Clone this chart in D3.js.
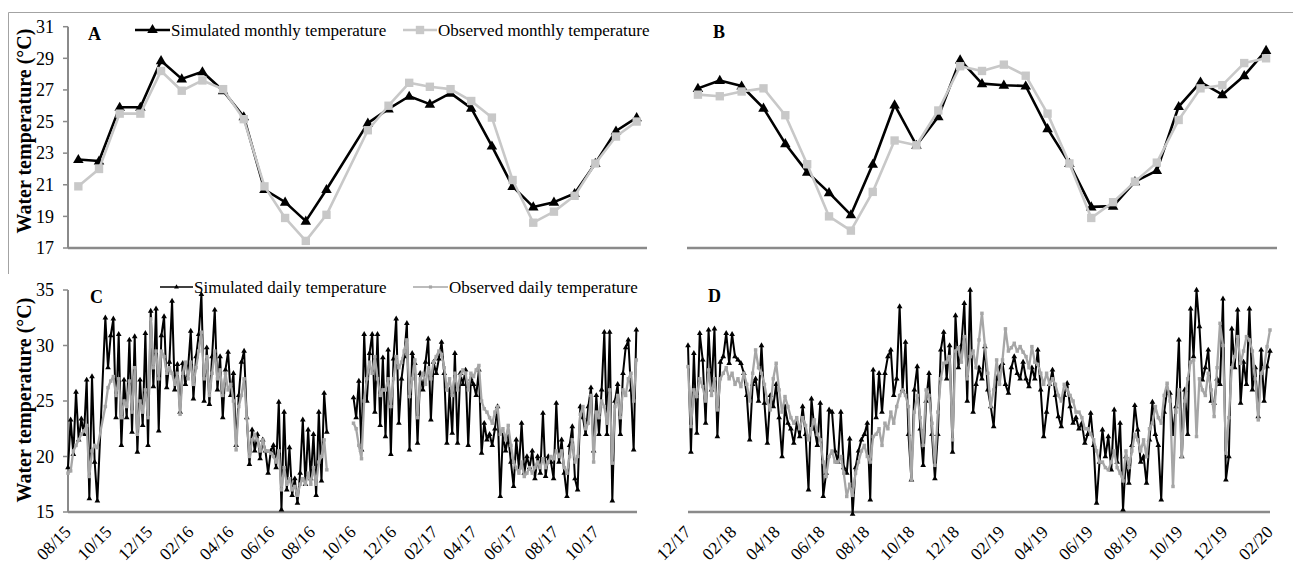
<!DOCTYPE html>
<html><head><meta charset="utf-8">
<script src="https://cdn.jsdelivr.net/npm/d3@7"></script>
<style>
body{margin:0;background:#fff}
svg{display:block}
text{font-family:"Liberation Serif","Times New Roman",serif;fill:#000}
</style>
</head><body>
<svg id="chart" width="1293" height="568"></svg>
<script>
// ---------------- DATA ----------------
const monthsA = ["08/15","09/15","10/15","11/15","12/15","01/16","02/16","03/16","04/16","05/16","06/16","07/16","08/16","09/16","10/16","11/16","12/16","01/17","02/17","03/17","04/17","05/17","06/17","07/17","08/17","09/17","10/17","11/17"];
const simMonthlyA = [22.6,22.5,25.9,25.9,28.85,27.7,28.15,26.95,25.3,20.7,19.9,18.7,20.7,null,24.9,25.8,26.6,26.1,26.8,25.85,23.45,20.9,19.6,19.9,20.45,22.35,24.4,25.25];
const obsMonthlyA = [20.9,22.0,25.5,25.5,28.2,26.95,27.6,27.05,25.15,20.9,18.9,17.45,19.1,null,24.45,26.0,27.45,27.2,27.05,26.3,25.25,21.3,18.6,19.3,20.3,22.35,24.05,25.0];

const monthsB = ["12/17","01/18","02/18","03/18","04/18","05/18","06/18","07/18","08/18","09/18","10/18","11/18","12/18","01/19","02/19","03/19","04/19","05/19","06/19","07/19","08/19","09/19","10/19","11/19","12/19","01/20","02/20"];
const simMonthlyB = [27.1,27.6,27.25,25.85,23.6,21.8,20.5,19.1,22.3,26.05,23.5,25.3,28.9,27.4,27.3,27.25,24.55,22.35,19.6,19.65,21.2,21.9,25.95,27.5,26.7,27.9,29.5];
const obsMonthlyB = [26.7,26.6,26.9,27.1,25.4,22.3,19.0,18.1,20.55,23.8,23.5,25.7,28.5,28.2,28.6,27.9,25.5,22.35,18.9,19.9,21.2,22.4,25.1,27.1,27.3,28.7,29.0];

// daily series, one value every 4 days from the start date (null = no data)
const dailyStepDays = 4;
const startC = "2015-08-01", endC = "2017-12-01";
const startD = "2017-12-01", endD = "2020-02-01";

const simDailyC = [19,23.3,20.2,25.8,21.5,23.4,22,26.9,16.2,27.2,19.5,16,null,null,
32.5,28,30.9,32.4,23.5,31,21,26.9,23.5,30.5,22.2,30.8,20.4,26.9,22.8,31.1,
21,33.1,26.3,33.3,22.3,30.9,32.6,26.2,28.5,34,26,28.3,24,28.4,26.5,28,31.3,25.2,29,31,
34.6,25,29.8,24.7,29,33.2,26,29,23.5,27.8,29.4,25.5,27.5,21,25.5,28.5,29.5,23.5,19.3,22.4,
20.5,22,19.8,21.5,20.5,18.5,20.5,21,19,24.9,15.2,24,17,20.8,16.5,18,15.8,18.5,23.3,17.5,
22.4,18,22,16.5,24,17.8,25.7,22.2,
null,null,null,null,null,null,null,null,null,
25.3,23.5,26.8,20.6,31,25,29.3,31,24,31,22.8,28.9,21.8,29.6,20.2,28.8,32.4,23,
27,29,32,20.6,29.3,28.4,21.2,27.5,26,28.5,30.6,23.3,28.5,27.5,28.8,30.3,27.5,21.2,26,22.1,
29.3,21.2,27.5,26.5,27.8,21,27,26.5,25.5,27.8,20.3,23,21.5,22,21,22.5,24.5,16.4,22,20.5,
21.8,19.5,17.3,21.5,19,23,18.5,20,19,20.5,18,20,18.5,23.9,18.2,20,19.5,18,24.8,19.5,
21.5,18.5,16.4,21,22.7,18,17,24.5,23.5,22,24.5,26.2,20.5,25.5,22,26,31.2,22,31.2,16,
25,26.5,22,27.5,29.8,30.5,26,20.6,31.4];

const obsDailyC = [18.5,18.7,20.5,21,21.5,22,22.3,22.8,18.2,20.5,21,20.8,null,null,
24.5,26.2,26.8,27.2,25.5,27,23.5,25,24.5,26.8,24,28,22,25,24,26,
23.5,32.4,28,29.5,27,29.5,29,27.5,28,27.5,26.5,27.5,23.8,27.5,28.5,27,28.5,26.5,28,29.5,
31.2,27,29,25.5,27.5,29.5,27,27.8,25.5,27.5,26,26.5,25,20.6,24.5,25.5,27,23.5,20,21.5,
22,21.5,20.5,21.5,20.5,20.5,20.3,20,19.5,20.5,17,19,17.5,18,17,17.3,16.5,17.5,18,17.5,
18.5,17.5,19,17.5,19.5,20,21.5,18.8,
null,null,null,null,null,null,null,null,null,
23,22.5,21,19.8,25,27,28.5,27.5,29,27,25.5,26,26,27,24.5,27,29,28,
28.5,29.5,30.5,25.4,27,28.7,23.5,27,27.5,26.5,28,27,28.5,29,29.5,29.2,28,26,27,25.5,
27.5,26,27.3,27.8,27.5,26,27.5,27.2,27.8,28.2,25,24.3,24,23.5,23,24,24.5,22,22.5,21.5,
22.8,21,19.5,19,18.5,19.5,18.2,18.5,19,18.5,19,19.5,19,19.8,19,19.5,20,19.8,20.5,20,
20.5,19,18.5,20,21.5,19.5,20,23.8,24.5,22.5,23,25.5,19.5,24,23.5,25,24.5,23,26,19.4,
24.5,25.5,23.5,26,25.5,27,27.5,25,28.7];

const simDailyD = [30,20.4,29.3,22.1,31.1,28.7,23,31.4,26,31.5,
21.8,28.5,29,31.1,28.4,31,29,28.7,28.4,27.5,
25.5,21.5,26.5,27,25,30,24.8,21.2,25.5,24.5,
26.5,23.5,20,24.5,23,22.5,21.2,23,21.8,24.5,
22,17,25.2,22.5,21,24.8,16.4,18.5,24.2,24,
20.5,19.5,24,19,18.5,21.6,14.8,19,20.5,21.5,
22,23,16.1,27.8,23.5,27.5,24,27.5,29,29.6,
25.5,27,33.5,26,30.3,22,17.9,26,28.1,22.5,
19.2,25,27.5,22,18,22,29.6,31.2,27,30,
20.4,32.7,28,30,33.8,25,35,24,26.5,28,
27,29.9,26,24.5,22.7,27,28,28.4,26.5,25.7,
28,29,27.5,27,28.5,27,26.3,28,27,29.6,
26,21.8,24,26.5,27.8,25.5,23.6,22.7,25.5,26.6,
24.5,23,23.5,22.5,23,21.2,22,23.9,21,15.8,
19.5,22.4,20,21.8,18.8,24.2,19.5,23,15.2,20,
17.6,21,24.6,22.4,19.5,20,17.6,21.5,24.9,22,
21,16.1,24,26,25.7,22,24.5,30.5,20,26,
22,33.3,29,35,31.7,26.9,28,29.6,25,24.8,
27,26.5,34.2,17.9,20,31.5,28,33.2,24.8,28.5,
26.5,33.3,26,28,23.6,29.6,25,28.1,29.5];

const obsDailyD = [28.1,22.7,26,25.4,27,26.3,25,27.8,25.5,27,
24.2,27,27.5,28,27,27.5,26.5,27,26.3,27.5,
26.5,25,27.5,29.6,28,27.5,26.5,25,24.2,27,
28.4,26,24,25.4,24.5,23.5,23,23.5,22.5,23.5,
22.8,21.5,22.5,23.3,22,21.5,19.5,18.2,20,20.5,
19.5,19.5,20,18.5,16.4,17.5,16.5,18.5,19.5,20.5,
21,20,19.5,21.8,22,22.5,21,23,22.5,24,
23,24.5,25.5,26,25.5,24.5,17.9,24,25.5,23.5,
21,26,25.5,23,19.2,24,27,28.4,28.5,29,
21.5,29.5,29.8,28.5,30.8,27,29,29.5,28,30.5,
32.9,30,27.5,24.5,26,28.7,26.5,28.7,31.5,29.5,
29.8,30.2,29.5,29.9,29.4,29,28,29.9,28.5,28.3,
27.5,26.5,27.5,26.5,27,26.5,25.5,25,26.5,26,
25.5,25,24,24,23.5,22.5,22.5,22,21.5,20.5,
19.5,19.5,19,18.8,19.5,20.5,19,18.5,17.8,20.5,
19,20.5,22,21.5,20.5,21.5,20,22.5,23,24.5,
23.5,23,25.5,26.6,25,17.3,24,26,20,25,
27,28.5,28.7,21.8,27,26,25.5,27.5,26,23.6,
28,32,30,20.3,23.5,28,29,30.8,28.4,29.5,
30.8,30.5,29.5,27,23.3,27.5,28,29.9,31.4];

const yTicksMonthly = [17,19,21,23,25,27,29,31];
const yTicksDaily = [15,20,25,30,35];
const xLabelsC = ["08/15","10/15","12/15","02/16","04/16","06/16","08/16","10/16","12/16","02/17","04/17","06/17","08/17","10/17"];
const xLabelsD = ["12/17","02/18","04/18","06/18","08/18","10/18","12/18","02/19","04/19","06/19","08/19","10/19","12/19","02/20"];
const legendMonthly = ["Simulated monthly temperature","Observed monthly temperature"];
const legendDaily = ["Simulated daily temperature","Observed daily temperature"];
const yTitle = "Water temperature (\u00B0C)";

// ---------------- STYLE ----------------
const AXIS = "#8a8a8a", SIM = "#000", OBS_M = "#c8c8c8", OBS_D = "#a6a6a6";
const svg = d3.select("#chart");
const parseD = d3.utcParse("%Y-%m-%d");
const labelToDate = s => { const [m,y] = s.split("/").map(Number); return new Date(Date.UTC(2000+y, m-1, 1)); };

// frame
svg.append("path").attr("d","M8.5,274 V12.5 H1293").attr("fill","none").attr("stroke","#a3a3a3").attr("stroke-width",1);

// scales
const yM = d3.scaleLinear().domain([17,31]).range([248,26.7]);
const yD = d3.scaleLinear().domain([15,35]).range([512,290]);
const xA = d3.scaleBand().domain(monthsA).range([68,647]);
const xB = d3.scaleBand().domain(monthsB).range([687,1277]);
const xC = d3.scaleUtc().domain([parseD(startC), parseD(endC)]).range([68,637]);
const xD = d3.scaleUtc().domain([parseD(startD), parseD(endD)]).range([688,1270]);

function yAxis(x0, y, ticks, fs){
  const g = svg.append("g");
  g.append("line").attr("x1",x0).attr("x2",x0).attr("y1",y.range()[1]).attr("y2",y.range()[0]).attr("stroke",AXIS).attr("stroke-width",2);
  g.selectAll("line.t").data(ticks).join("line").attr("class","t")
    .attr("x1",x0-5).attr("x2",x0).attr("y1",d=>y(d)).attr("y2",d=>y(d)).attr("stroke",AXIS).attr("stroke-width",1.5);
  g.selectAll("text").data(ticks).join("text").attr("x",x0-14).attr("y",d=>y(d)).attr("dy","0.35em")
    .attr("text-anchor","end").attr("font-size",fs).text(d=>d);
}
function xAxisLine(x0,x1,yv){
  svg.append("line").attr("x1",x0).attr("x2",x1).attr("y1",yv).attr("y2",yv).attr("stroke",AXIS).attr("stroke-width",2.5);
}
function yTitleAt(cx, cy){
  svg.append("text").attr("transform",`translate(${cx},${cy}) rotate(-90)`).attr("text-anchor","middle")
    .attr("dy","0.35em").attr("font-size",20).attr("font-weight","bold").text(yTitle);
}
function panelLetter(x,y,t){ svg.append("text").attr("x",x).attr("y",y).attr("font-size",18).attr("font-weight","bold").text(t); }

const tri = (s) => d3.symbol(d3.symbolTriangle, s)();
const sq = (s) => d3.symbol(d3.symbolSquare, s)();

// ---- monthly panels ----
function monthly(x, months, sim, obs){
  const cx = m => x(m) + x.bandwidth()/2;
  const ps = months.map((m,i)=>({m,v:sim[i]})).filter(p=>p.v!=null);
  const po = months.map((m,i)=>({m,v:obs[i]})).filter(p=>p.v!=null);
  const line = d3.line().x(p=>cx(p.m)).y(p=>yM(p.v));
  svg.append("path").attr("d",line(ps)).attr("fill","none").attr("stroke",SIM).attr("stroke-width",2.6).attr("stroke-linejoin","round");
  svg.append("g").selectAll("path").data(ps).join("path").attr("d",tri(48))
    .attr("transform",p=>`translate(${cx(p.m)},${yM(p.v)+0.5})`).attr("fill",SIM);
  svg.append("path").attr("d",line(po)).attr("fill","none").attr("stroke",OBS_M).attr("stroke-width",2.6).attr("stroke-linejoin","round");
  svg.append("g").selectAll("path").data(po).join("path").attr("d",sq(70))
    .attr("transform",p=>`translate(${cx(p.m)},${yM(p.v)})`).attr("fill",OBS_M);
}
xAxisLine(68,647,248);
xAxisLine(687,1277,248);
yAxis(68,yM,yTicksMonthly,18);
monthly(xA, monthsA, simMonthlyA, obsMonthlyA);
monthly(xB, monthsB, simMonthlyB, obsMonthlyB);

// ---- daily panels ----
function daily(x, start, vals, color, markerPath, lw){
  const s = parseD(start);
  const pts = vals.map((v,i)=>({d:d3.utcDay.offset(s,i*dailyStepDays),v})).filter(p=>p.v!=null);
  const segs=[]; let cur=[];
  pts.forEach((p,i)=>{ if(i>0 && (p.d - pts[i-1].d) > 16*864e5){ segs.push(cur); cur=[]; } cur.push(p); });
  segs.push(cur);
  const line = d3.line().x(p=>x(p.d)).y(p=>yD(p.v));
  const g = svg.append("g");
  segs.forEach(sg=>g.append("path").attr("d",line(sg)).attr("fill","none").attr("stroke",color).attr("stroke-width",lw).attr("stroke-linejoin","round"));
  g.selectAll("path.m").data(pts).join("path").attr("class","m").attr("d",markerPath)
    .attr("transform",p=>`translate(${x(p.d)},${yD(p.v)})`).attr("fill",color);
}
function xLabels(x, labels, yv){
  svg.append("g").selectAll("text").data(labels).join("text")
    .attr("transform",l=>`translate(${x(labelToDate(l))+4},${yv+21}) rotate(-45)`)
    .attr("text-anchor","end").attr("font-size",17.5).text(l=>l);
}
xAxisLine(68,637,512);
xAxisLine(688,1270,512);
yAxis(68,yD,yTicksDaily,18);
daily(xC, startC, simDailyC, SIM, tri(14), 2);
daily(xC, startC, obsDailyC, OBS_D, sq(12), 2.3);
daily(xD, startD, simDailyD, SIM, tri(14), 2);
daily(xD, startD, obsDailyD, OBS_D, sq(12), 2.3);
xLabels(xC, xLabelsC, 512);
xLabels(xD, xLabelsD, 512);

// ---- titles, letters, legends ----
yTitleAt(24,131);
yTitleAt(24,400);
panelLetter(88,40,"A");
panelLetter(713,38,"B");
panelLetter(90,303,"C");
panelLetter(708,302,"D");

function legendItem(x0,x1,yv,color,marker,text,lw){
  svg.append("line").attr("x1",x0).attr("x2",x1).attr("y1",yv).attr("y2",yv).attr("stroke",color).attr("stroke-width",lw);
  svg.append("path").attr("d",marker).attr("transform",`translate(${(x0+x1)/2},${yv})`).attr("fill",color);
  svg.append("text").attr("x",x1+1).attr("y",yv).attr("dy","0.35em").attr("font-size",17).text(text);
}
legendItem(135,170,30,SIM,tri(48),legendMonthly[0],2.6);
legendItem(403,437,30,OBS_M,sq(70),legendMonthly[1],2.6);
legendItem(160,193,287,SIM,tri(10),legendDaily[0],1.6);
legendItem(413,448,287,OBS_D,sq(10),legendDaily[1],1.6);
</script>
</body></html>
